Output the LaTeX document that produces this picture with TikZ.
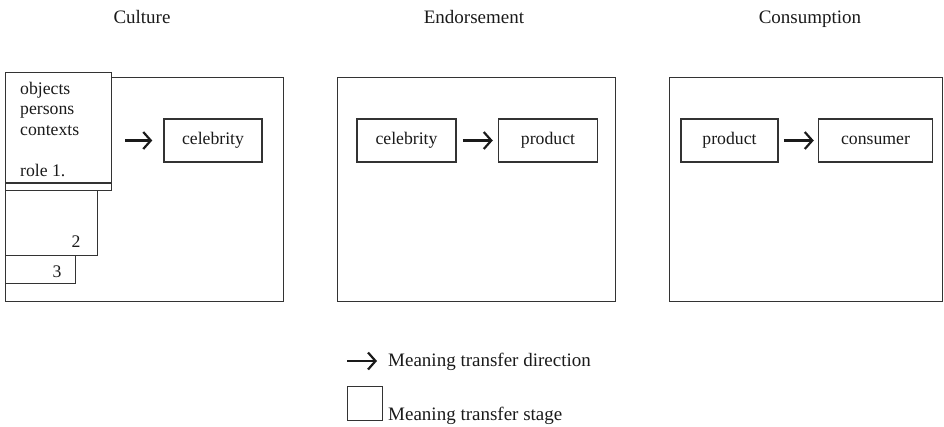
\documentclass[tikz,border=0pt]{standalone}
\usepackage{fontspec}
\setmainfont{Liberation Serif}
\usetikzlibrary{positioning,arrows.meta}
\definecolor{mtLine}{HTML}{333333}
\definecolor{mtText}{HTML}{1A1A1A}

\tikzset{
  stagebox/.style={draw=mtLine, line width=1.3pt, rectangle, inner sep=0pt, anchor=north west},
  itembox/.style={draw=mtLine, line width=1.5pt, fill=white, rectangle, inner sep=0pt,
    minimum height=43pt, text=mtText, font=\fontsize{17.7}{20.5}\selectfont},
  flow/.style={mtText, line width=2.2pt, -{Straight Barb[length=7.5pt,width=17pt]}},
  titletext/.style={text=mtText, font=\fontsize{19}{22}\selectfont},
  roletext/.style={text=mtText, inner sep=0pt, font=\fontsize{17.7}{20.5}\selectfont},
}

\begin{document}
\begin{tikzpicture}[x=1pt,y=-1pt]
  \useasboundingbox (0,0) rectangle (944,426);

  % Stages
  \node[stagebox, minimum width=278pt, minimum height=224pt] (culture) at (5,77) {};
  \node[stagebox, minimum width=278pt, minimum height=224pt] (endorse) at (337,77) {};
  \node[stagebox, minimum width=273pt, minimum height=224pt] (consume) at (669,77) {};

  % Stage titles
  \node[titletext, anchor=base, inner sep=0pt] (cultureT) at (142,23) {Culture};
  \node[titletext, anchor=base, inner sep=0pt] (endorseT) at (474,23) {Endorsement};
  \node[titletext, anchor=base, inner sep=0pt] (consumeT) at (810,23) {Consumption};

  % Role cards, back to front
  \node[stagebox, fill=white, minimum width=70pt, minimum height=28pt] (role3) at (5,255) {};
  \node[stagebox, fill=white, minimum width=92pt, minimum height=65pt] (role2) at (5,190) {};
  \node[stagebox, fill=white, minimum width=106pt, minimum height=118pt] (role1) at (5,72) {};
  \draw[mtLine, line width=1.3pt] (role1.west |- 0,183) -- (role1.east |- 0,183);

  \node[roletext, anchor=north west, align=left] (roleA) at (20,82)
    {objects\\persons\\contexts\\[20.5pt]role 1.};
  \node[roletext] (roleB) at (76,242) {2};
  \node[roletext] (roleC) at (57,272) {3};

  % Culture
  \node[itembox, minimum width=98pt] (celebA) at (213,140.5) {celebrity};
  \draw[flow, shorten <=13pt, shorten >=11pt] (role1.east |- celebA.west) -- (celebA.west);

  % Endorsement
  \node[itembox, minimum width=99pt] (celebB) at (406.5,140.5) {celebrity};
  \node[itembox, minimum width=99pt, right=41pt of celebB] (prodB) {product};
  \draw[flow, shorten <=6pt, shorten >=5pt] (celebB) -- (prodB);

  % Consumption
  \node[itembox, minimum width=97pt] (prodC) at (729.5,140.5) {product};
  \node[itembox, minimum width=114pt, right=39pt of prodC] (consC) {consumer};
  \draw[flow, shorten <=5pt, shorten >=4pt] (prodC) -- (consC);

  % Legend
  \coordinate (legA) at (347,361);
  \coordinate (legB) at (377,361);
  \draw[flow] (legA) -- (legB);
  \node[titletext, anchor=base west, inner sep=0pt] (legDir) at (388,366) {Meaning transfer direction};
  \node[stagebox, minimum width=35pt, minimum height=34pt] (legBox) at (347,386) {};
  \node[titletext, anchor=base west, inner sep=0pt] (legStage) at (388,420) {Meaning transfer stage};
\end{tikzpicture}
\end{document}
